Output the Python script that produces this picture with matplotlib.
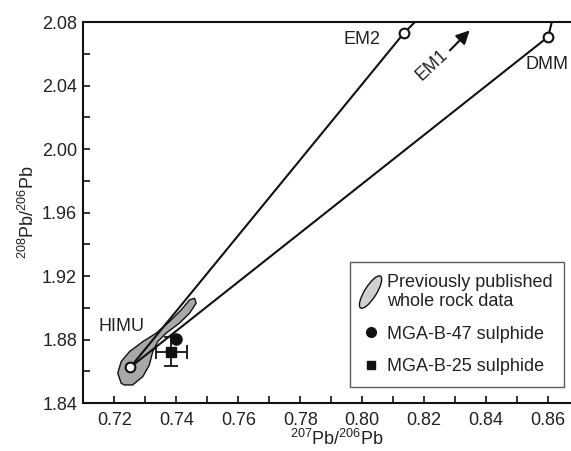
import matplotlib
matplotlib.use('Agg')
import matplotlib.pyplot as plt
from matplotlib.patches import Polygon, Ellipse, Patch
from matplotlib.legend_handler import HandlerPatch
from matplotlib.lines import Line2D

plt.rcParams['font.family'] = ['Liberation Sans', 'DejaVu Sans']
plt.rcParams['mathtext.fontset'] = 'custom'
plt.rcParams['mathtext.rm'] = 'Liberation Sans'
plt.rcParams['mathtext.it'] = 'Liberation Sans:italic'

# mantle end-members (207Pb/206Pb, 208Pb/206Pb)
himu = (0.7252, 1.8627)
em2 = (0.8134, 2.0729)
dmm = (0.8600, 2.0707)
# lines carry on past EM2 and DMM up to the top of the plot
em2_ext = (0.8170, 2.0800)
dmm_ext = (0.8612, 2.0800)

# outline of previously published whole rock field
field_x = [0.7222, 0.7211, 0.7222, 0.7249, 0.7292, 0.7335, 0.7378, 0.7416,
           0.7443, 0.7459, 0.7464, 0.7443, 0.7410, 0.7367, 0.7340, 0.7324,
           0.7313, 0.7292, 0.7259, 0.7232]
field_y = [1.8526, 1.8589, 1.8662, 1.8725, 1.8788, 1.8841, 1.8914, 1.8988,
           1.9051, 1.9061, 1.9030, 1.8967, 1.8904, 1.8841, 1.8788, 1.8725,
           1.8641, 1.8568, 1.8515, 1.8515]

# sulphides
b47_x, b47_y = 0.7400, 1.8803
b25_x, b25_y = 0.7383, 1.8725
b25_xerr, b25_yerr = 0.0050, 0.0090

legend_labels = ['Previously published\nwhole rock data',
                 'MGA-B-47 sulphide', 'MGA-B-25 sulphide']

fig = plt.figure(figsize=(5.71, 4.51), dpi=100)
ax = fig.add_axes([0.146, 0.106, 0.854, 0.845])

lw = 1.5
ax.add_patch(Polygon(list(zip(field_x, field_y)), closed=True,
                     facecolor='#a8a8a8', edgecolor='#111111', lw=1.0, zorder=1))

ax.plot([himu[0], em2[0], em2_ext[0]], [himu[1], em2[1], em2_ext[1]],
        color='#111111', lw=lw, zorder=2, solid_capstyle='butt')
ax.plot([himu[0], dmm[0], dmm_ext[0]], [himu[1], dmm[1], dmm_ext[1]],
        color='#111111', lw=lw, zorder=2, solid_capstyle='butt')

for p in (himu, em2, dmm):
    ax.plot(p[0], p[1], 'o', ms=7, mfc='white', mec='#111111', mew=1.5, zorder=4)

ax.errorbar(b25_x, b25_y, xerr=b25_xerr, yerr=b25_yerr, fmt='s', ms=7,
            color='#111111', ecolor='#111111', elinewidth=1.3, capsize=5,
            capthick=1.3, zorder=3)
ax.plot(b47_x, b47_y, 'o', ms=8, color='#111111', zorder=4)

ax.text(0.7998, 2.0688, 'EM2', fontsize=13, ha='center', va='center', color='#222222')
ax.text(0.8596, 2.0530, 'DMM', fontsize=13, ha='center', va='center', color='#222222')
ax.text(0.8224, 2.0530, 'EM1', fontsize=13, ha='center', va='center',
        rotation=43, color='#222222')
ax.annotate('', xy=(0.8347, 2.0748), xytext=(0.8283, 2.0622),
            arrowprops=dict(arrowstyle='-|>', color='#111111', lw=1.5,
                            mutation_scale=20, shrinkA=0, shrinkB=0))
ax.text(0.7222, 1.8882, 'HIMU', fontsize=13, ha='center', va='center', color='#222222')

ax.set_xlim(0.71, 0.8674)
ax.set_ylim(1.84, 2.08)
ax.set_xticks([0.72, 0.74, 0.76, 0.78, 0.80, 0.82, 0.84, 0.86])
ax.set_xticks([0.73, 0.75, 0.77, 0.79, 0.81, 0.83, 0.85], minor=True)
ax.set_yticks([1.84, 1.88, 1.92, 1.96, 2.00, 2.04, 2.08])
ax.set_yticks([1.86, 1.90, 1.94, 1.98, 2.02, 2.06], minor=True)
ax.set_xticklabels(['%.2f' % v for v in ax.get_xticks()])
ax.set_yticklabels(['%.2f' % v for v in ax.get_yticks()])
ax.tick_params(which='both', direction='in', width=1.2, labelsize=13,
               colors='#111111', labelcolor='#222222')
ax.tick_params(which='major', length=5)
ax.tick_params(which='minor', length=5)
ax.tick_params(axis='x', pad=6)
ax.tick_params(axis='y', pad=4.5)
for s in ('left', 'top', 'bottom'):
    ax.spines[s].set_linewidth(1.5)
    ax.spines[s].set_color('#111111')
ax.spines['right'].set_visible(False)

ax.set_xlabel(r'$^{207}$Pb/$^{206}$Pb', fontsize=13, color='#222222')
ax.set_ylabel(r'$^{208}$Pb/$^{206}$Pb', fontsize=13, color='#222222')
ax.xaxis.set_label_coords(0.519, -0.068)
ax.yaxis.set_label_coords(-0.094, 0.5)


def make_ellipse(legend, orig_handle, xdescent, ydescent, width, height, fontsize):
    return Ellipse((width / 2 - xdescent, height / 2 - ydescent),
                   width=27, height=8.5, angle=58)


handles = [Patch(facecolor='#d0d0d0', edgecolor='#111111', lw=1.0),
           Line2D([], [], ls='none', marker='o', ms=7, color='#111111'),
           Line2D([], [], ls='none', marker='s', ms=6, color='#111111')]
leg = ax.legend(handles, legend_labels, loc='lower right',
                bbox_to_anchor=(0.986, 0.0435), fontsize=13, frameon=True,
                fancybox=False, edgecolor='#333333', borderpad=0.65,
                handlelength=1.0, handletextpad=0.4, labelspacing=0.85,
                borderaxespad=0,
                handler_map={Patch: HandlerPatch(patch_func=make_ellipse)})
leg.get_frame().set_linewidth(1.0)
for t in leg.get_texts():
    t.set_color('#222222')

fig.savefig('out.png', dpi=100)
